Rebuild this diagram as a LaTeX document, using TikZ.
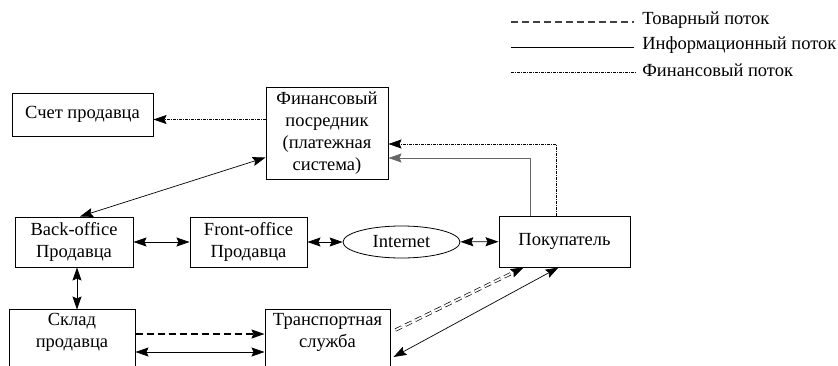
\documentclass[tikz,border=0pt]{standalone}
\usepackage{fontspec}
\setmainfont{Liberation Serif}
\usetikzlibrary{shapes.geometric, arrows.meta, calc}

\begin{document}
\begin{tikzpicture}[x=1pt, y=-1pt, line width=0.7pt, >={Stealth[length=13pt,width=9pt,inset=2pt]},
    font=\fontsize{18.5}{22}\selectfont]
    \tikzstyle{block}=[draw, line width=1pt, align=center, inner sep=0pt]
    \tikzstyle{low block}=[block, anchor=north, text depth=42pt, inner ysep=4pt]
    \tikzstyle{goods}=[dash pattern=on 7pt off 4pt, line width=1.4pt]
    \tikzstyle{goods double}=[double, double distance=1.8pt, line width=0.7pt, dash pattern=on 7pt off 4pt]
    \tikzstyle{money}=[dash pattern=on 3pt off 1pt on 1pt off 1pt]
    \tikzstyle{info}=[line width=0.7pt]

    \useasboundingbox (0,0) rectangle (838,365);

    % Legend
    \foreach \name / \y / \txt in {goods/20/Товарный поток, info/45/Информационный поток, money/70/Финансовый поток} {
        \node[anchor=west, inner sep=0pt] (lg-\name) at (642,\y) {\txt};
        \coordinate (lg-\name-start) at (511,\y+2);
    }
    \draw[goods, black!75] (lg-goods-start) -- ($(lg-goods-start -| lg-goods.west)+(-8,0)$);
    \draw[info] (lg-info-start) -- ($(lg-info-start -| lg-info.west)+(-8,0)$);
    \draw[money, line width=0.5pt] (lg-money-start) -- ($(lg-money-start -| lg-money.west)+(-6,0)$);

    % Boxes
    \node[block, minimum width=141pt, minimum height=43pt] (schet) at (82.5,114.5) {Счет продавца};
    \node[block, minimum width=122pt, minimum height=92pt] (fin) at (327,133) {Финансовый\\посредник\\(платежная\\система)};
    \node[block, minimum width=118pt, minimum height=50pt] (back) at (74,242) {Back-office\\Продавца};
    \node[block, minimum width=117pt, minimum height=50pt] (front) at (248.5,242) {Front-office\\Продавца};
    \node[draw, ellipse, line width=0.8pt, minimum width=117pt, minimum height=32pt, inner sep=0pt] (inet) at (401.5,242) {Internet};
    \node[block, minimum width=131pt, minimum height=51pt] (buyer) at (564.5,241.5) {Покупатель};
    \node[low block, minimum width=126pt] (sklad) at (72,309) {Склад\\продавца};
    \node[low block, minimum width=125pt] (trans) at (327.5,309) {Транспортная\\служба};

    % Financial flows
    \coordinate (schet-in) at ($(schet.east)+(0,5)$);
    \draw[money, ->] (fin.west |- schet-in) -- (schet-in);
    \draw[money, ->] ($(buyer.north)+(-8,0)$) |- ($(fin.east)+(0,11)$);

    % Information flows
    \draw[info, <->] ($(back.north)+(6,0)$) -- ($(fin.south west)+(0,-22)$);
    \draw[info, <->] (back) -- (front);
    \draw[info, <->] (front) -- (inet);
    \draw[info, <->] (inet) -- (buyer);
    \draw[info, <->] ($(back.south)+(3,0)$) -- ($(back.south)+(3,42)$);
    \draw[info, black!60, ->] ($(buyer.north)+(-34,0)$) |- ($(fin.east)+(0,25)$);
    \draw[info, <->] ($(sklad.north east)+(0,43)$) -- ($(trans.north west)+(0,43)$);
    \draw[info, <->] ($(buyer.south)+(-6,0)$) -- ($(trans.north east)+(3,48)$);

    % Goods flows
    \draw[goods, ->] ($(sklad.north east)+(0,25)$) -- ($(trans.north west)+(0,25)$);
    \draw[goods double, ->] ($(trans.north east)+(5,21)$) -- ($(buyer.south)+(-41,0)$);
\end{tikzpicture}
\end{document}
